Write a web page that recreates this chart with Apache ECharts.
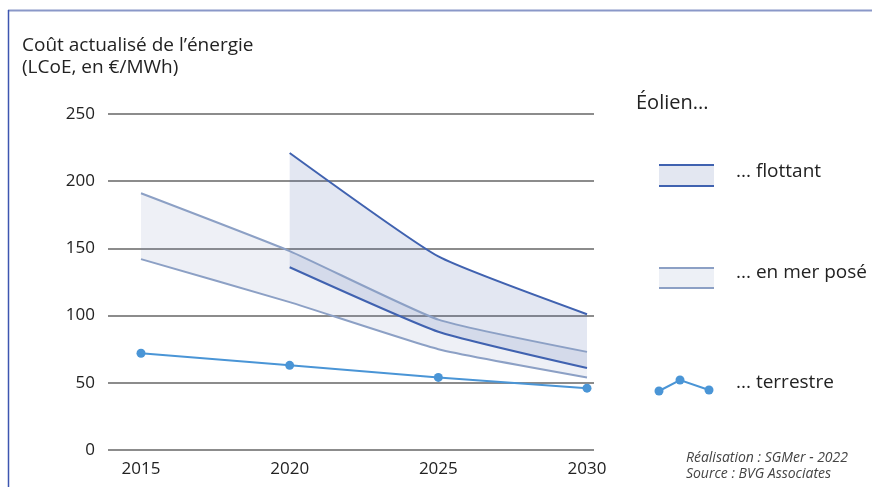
<!DOCTYPE html>
<html>
<head>
<meta charset="utf-8">
<script src="https://cdn.jsdelivr.net/npm/echarts@6/dist/echarts.min.js"></script>
<style>
  html, body { margin: 0; padding: 0; background: #fff; }
  #lcoe { width: 872px; height: 487px; }
</style>
</head>
<body>
<div id="lcoe"></div>
<script>
// données (€/MWh)
const annees = ['2015', '2020', '2025', '2030']
const flottantBas = ['-', 136, 88, 61]
const flottantHaut = ['-', 221, 144, 101]
const poseBas = [142, 110, 75, 54]
const poseHaut = [191, 148, 97, 73]
const terrestre = [72, 63, 54, 46]

const font = '"Open Sans", sans-serif'
const cFlottant = '#4062b0'
const cPose = '#8ca0c5'
const cTerrestre = '#4a95d6'

function ecart (haut, bas) {
  return haut.map((v, i) => (v === '-' ? '-' : v - bas[i]))
}

const chart = echarts.init(document.getElementById('lcoe'))

const option = {
  backgroundColor: '#fff',
  animation: false,
  title: {
    text: 'Coût actualisé de l’énergie\n(LCoE, en €/MWh)',
    left: 17,
    top: 30,
    textStyle: {
      fontFamily: font,
      fontSize: 19,
      fontWeight: 'normal',
      color: '#222',
      lineHeight: 22
    }
  },
  grid: [
    // grille des données
    { left: 141, right: 285, top: 114, bottom: 37 },
    // grille du fond (lignes horizontales plus larges)
    { left: 108, right: 278, top: 114, bottom: 37 }
  ],
  xAxis: [
    {
      gridIndex: 0,
      type: 'category',
      data: annees,
      boundaryGap: false,
      axisLine: { show: false },
      axisTick: { show: false },
      axisLabel: {
        color: '#222',
        fontFamily: font,
        fontSize: 17,
        margin: 11
      }
    },
    { gridIndex: 1, type: 'value', show: false, min: 0, max: 1 }
  ],
  yAxis: [
    { gridIndex: 0, type: 'value', min: 0, max: 250, show: false },
    {
      gridIndex: 1,
      type: 'value',
      min: 0,
      max: 250,
      interval: 50,
      axisLine: { show: false },
      axisTick: { show: false },
      axisLabel: {
        color: '#222',
        fontFamily: font,
        fontSize: 17,
        margin: 13
      },
      splitLine: {
        lineStyle: { color: '#8c8c8c', width: 2 }
      }
    }
  ],
  series: [
    {
      name: 'posé bas',
      type: 'line',
      stack: 'pose',
      data: poseBas,
      symbol: 'none',
      smooth: 0.15,
      lineStyle: { color: cPose, width: 2 }
    },
    {
      name: 'posé haut',
      type: 'line',
      stack: 'pose',
      data: ecart(poseHaut, poseBas),
      symbol: 'none',
      smooth: 0.15,
      lineStyle: { color: cPose, width: 2 },
      areaStyle: { color: 'rgba(120,140,185,0.13)', opacity: 1 }
    },
    {
      name: 'flottant bas',
      type: 'line',
      stack: 'flottant',
      data: flottantBas,
      symbol: 'none',
      smooth: 0.15,
      lineStyle: { color: cFlottant, width: 2 }
    },
    {
      name: 'flottant haut',
      type: 'line',
      stack: 'flottant',
      data: ecart(flottantHaut, flottantBas),
      symbol: 'none',
      smooth: 0.15,
      lineStyle: { color: cFlottant, width: 2 },
      areaStyle: { color: 'rgba(70,95,165,0.15)', opacity: 1 }
    },
    {
      name: 'terrestre',
      type: 'line',
      data: terrestre,
      symbol: 'circle',
      symbolSize: 9,
      itemStyle: { color: cTerrestre },
      lineStyle: { color: cTerrestre, width: 2 }
    }
  ],
  graphic: [
    // cadre
    { type: 'line', shape: { x1: 8, y1: 10.5, x2: 872, y2: 10.5 }, style: { stroke: '#8a98c8', lineWidth: 2 } },
    { type: 'line', shape: { x1: 8.5, y1: 10, x2: 8.5, y2: 487 }, style: { stroke: '#3d56b0', lineWidth: 1.5 } },
    // légende
    { type: 'text', left: 636, top: 93, style: { text: 'Éolien...', font: '20px ' + font, fill: '#222' } },
    { type: 'rect', shape: { x: 659, y: 165, width: 55, height: 21 }, style: { fill: '#e3e7f1' } },
    { type: 'line', shape: { x1: 659, y1: 165, x2: 714, y2: 165 }, style: { stroke: cFlottant, lineWidth: 2 } },
    { type: 'line', shape: { x1: 659, y1: 186, x2: 714, y2: 186 }, style: { stroke: cFlottant, lineWidth: 2 } },
    { type: 'text', left: 736, top: 162, style: { text: '... flottant', font: '19px ' + font, fill: '#222' } },
    { type: 'rect', shape: { x: 659, y: 268, width: 55, height: 20 }, style: { fill: '#edf0f6' } },
    { type: 'line', shape: { x1: 659, y1: 268, x2: 714, y2: 268 }, style: { stroke: cPose, lineWidth: 2 } },
    { type: 'line', shape: { x1: 659, y1: 288, x2: 714, y2: 288 }, style: { stroke: cPose, lineWidth: 2 } },
    { type: 'text', left: 736, top: 263, style: { text: '... en mer posé', font: '19px ' + font, fill: '#222' } },
    { type: 'polyline', shape: { points: [[659, 391], [680, 380], [709, 390]] }, style: { stroke: cTerrestre, lineWidth: 2, fill: null } },
    { type: 'circle', shape: { cx: 659, cy: 391, r: 4.5 }, style: { fill: cTerrestre } },
    { type: 'circle', shape: { cx: 680, cy: 380, r: 4.5 }, style: { fill: cTerrestre } },
    { type: 'circle', shape: { cx: 709, cy: 390, r: 4.5 }, style: { fill: cTerrestre } },
    { type: 'text', left: 736, top: 373, style: { text: '... terrestre', font: '19px ' + font, fill: '#222' } },
    // source
    {
      type: 'text',
      right: 24,
      top: 450,
      style: {
        text: 'Réalisation : SGMer - 2022\nSource : BVG Associates',
        font: 'italic 14px ' + font,
        fill: '#444',
        align: 'right',
        lineHeight: 16
      }
    }
  ]
}

chart.setOption(option)
</script>
</body>
</html>
